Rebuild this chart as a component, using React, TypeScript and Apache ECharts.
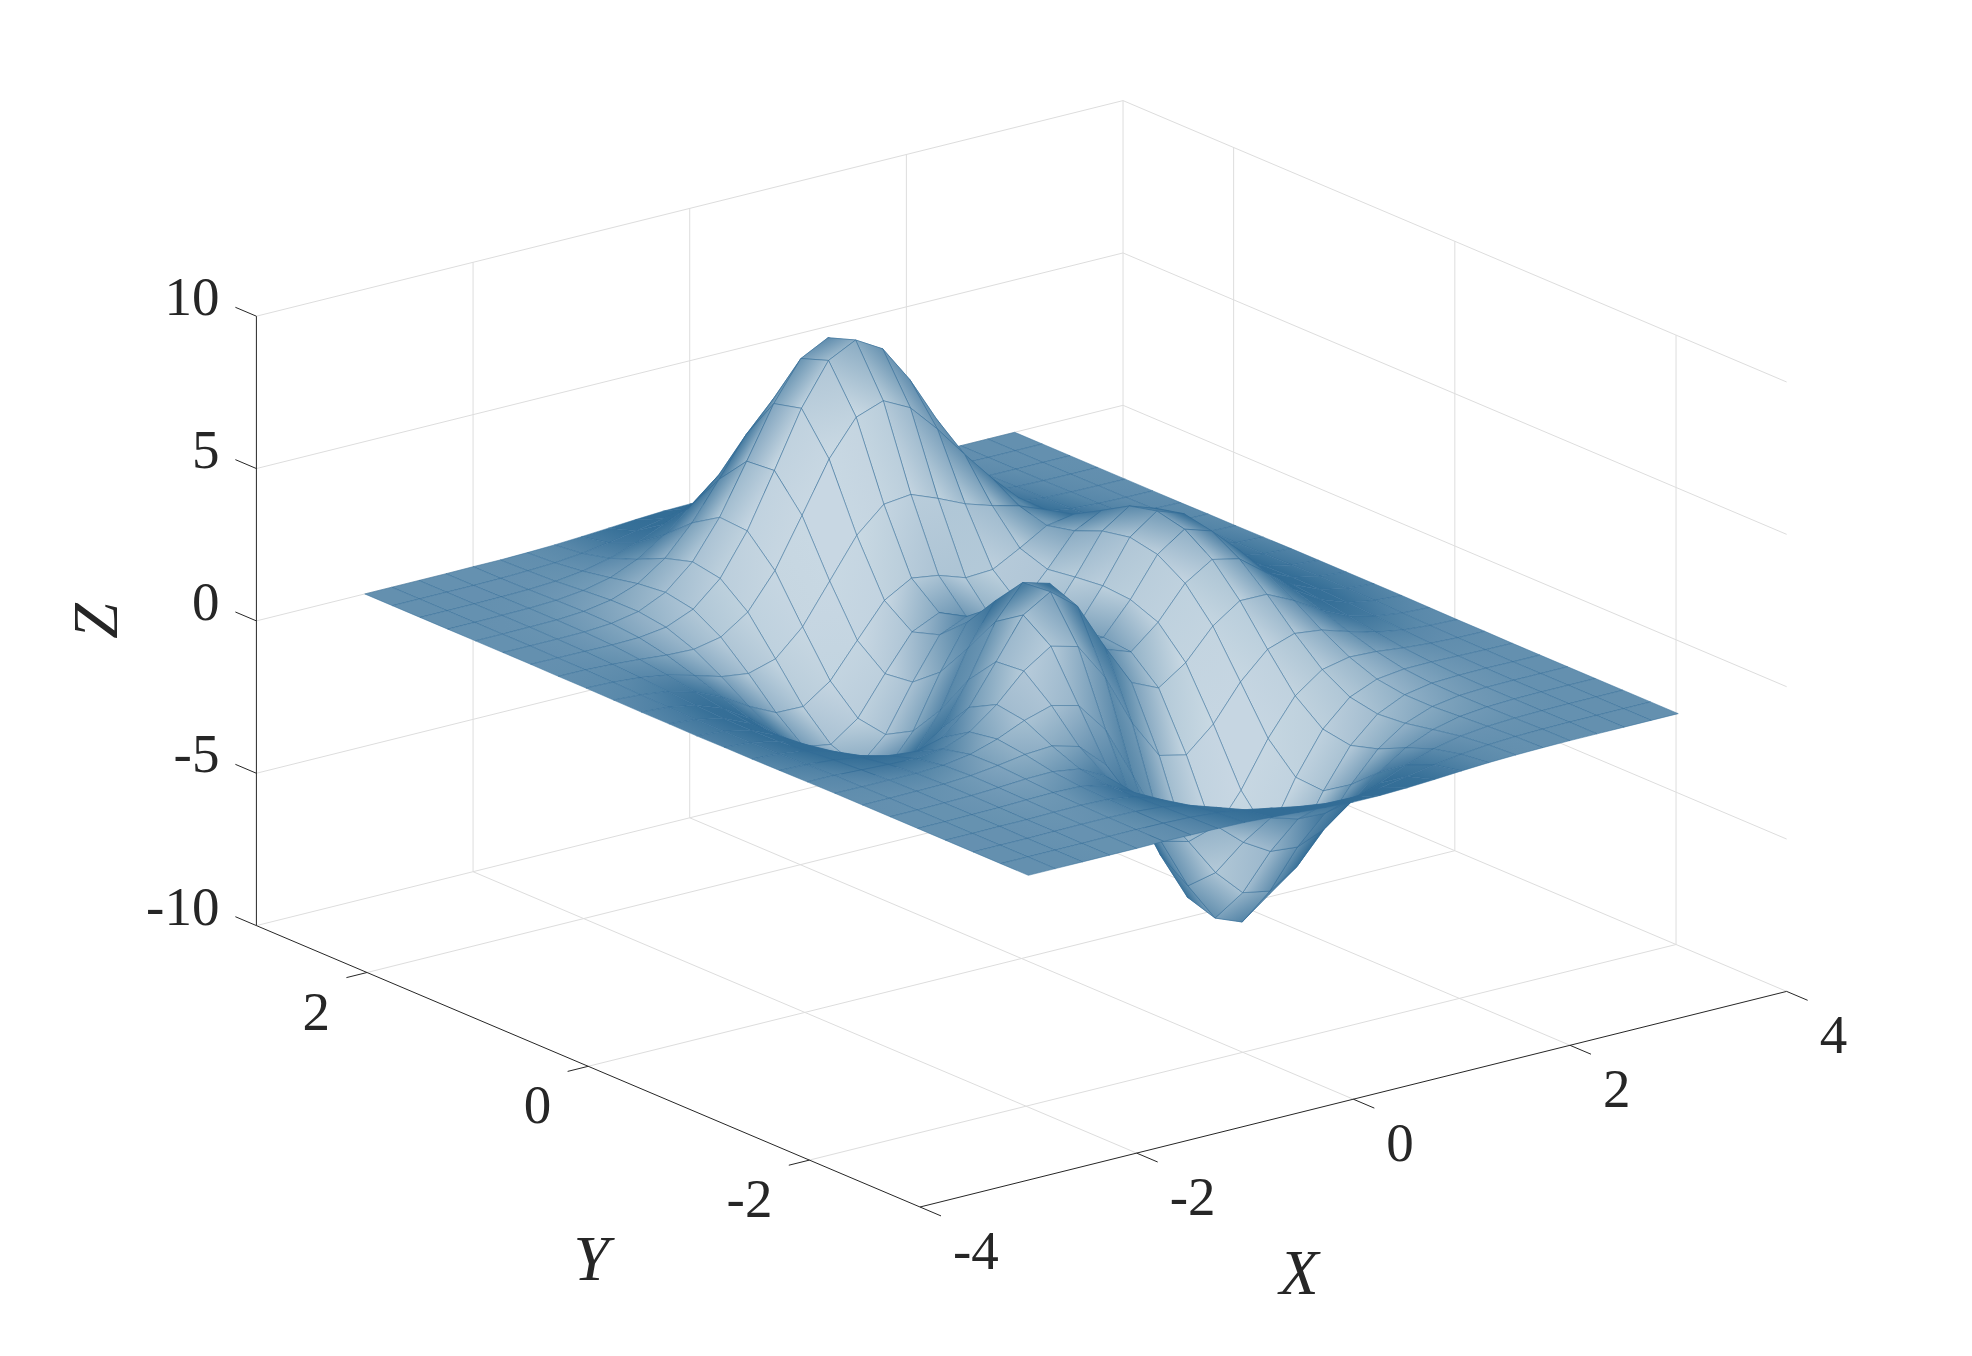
import React, { useEffect, useRef } from "react";
import * as echarts from "echarts";

const xValues = [-3,-2.75,-2.5,-2.25,-2,-1.75,-1.5,-1.25,-1,-0.75,-0.5,-0.25,0,0.25,0.5,0.75,1,1.25,1.5,1.75,2,2.25,2.5,2.75,3];
const yValues = [-3,-2.75,-2.5,-2.25,-2,-1.75,-1.5,-1.25,-1,-0.75,-0.5,-0.25,0,0.25,0.5,0.75,1,1.25,1.5,1.75,2,2.25,2.5,2.75,3];
// One row per x value, one column per y value.
const zByX = [
[0,0,0,0,0,0,0,0,-0.01,-0.02,-0.03,-0.03,-0.04,-0.03,-0.03,-0.02,-0.01,-0.01,0,0,0,0,0,0,0],
[0,0,0,0,0,0,0,-0.01,-0.02,-0.05,-0.08,-0.1,-0.11,-0.11,-0.09,-0.07,-0.04,-0.02,-0.01,0,0,0,0,0,0],
[0,0,0,0.01,0.01,0.01,0.01,-0.01,-0.06,-0.12,-0.2,-0.27,-0.3,-0.29,-0.25,-0.18,-0.11,-0.06,-0.02,0,0.01,0.01,0,0,0],
[0,0,0.01,0.01,0.02,0.03,0.02,-0.01,-0.1,-0.26,-0.44,-0.6,-0.69,-0.67,-0.57,-0.42,-0.25,-0.12,-0.03,0.01,0.02,0.02,0.01,0,0],
[0,0.01,0.02,0.03,0.05,0.07,0.08,0.03,-0.13,-0.42,-0.8,-1.14,-1.33,-1.32,-1.12,-0.81,-0.48,-0.2,-0.01,0.07,0.08,0.06,0.03,0.01,0.01],
[0.01,0.01,0.02,0.04,0.07,0.13,0.19,0.17,-0.04,-0.51,-1.16,-1.78,-2.14,-2.16,-1.85,-1.33,-0.74,-0.23,0.11,0.24,0.23,0.16,0.08,0.04,0.01],
[0,0,0,0.01,0.05,0.15,0.33,0.45,0.3,-0.28,-1.21,-2.16,-2.77,-2.87,-2.49,-1.76,-0.86,-0.05,0.48,0.65,0.55,0.36,0.19,0.08,0.03],
[-0.01,-0.03,-0.07,-0.12,-0.13,0.02,0.39,0.84,0.98,0.5,-0.59,-1.83,-2.71,-2.98,-2.64,-1.78,-0.6,0.55,1.27,1.43,1.16,0.74,0.39,0.17,0.06],
[-0.03,-0.1,-0.24,-0.44,-0.59,-0.46,0.15,1.11,1.86,1.78,0.8,-0.57,-1.65,-2.15,-2,-1.16,0.23,1.69,2.61,2.67,2.1,1.32,0.69,0.3,0.11],
[-0.08,-0.22,-0.53,-0.99,-1.45,-1.48,-0.68,0.89,2.45,3.09,2.49,1.23,0.06,-0.65,-0.76,-0.05,1.51,3.28,4.37,4.29,3.31,2.07,1.07,0.47,0.17],
[-0.14,-0.39,-0.91,-1.74,-2.64,-3.01,-2.18,-0.13,2.22,3.63,3.55,2.56,1.48,0.68,0.39,1.04,2.79,4.91,6.19,5.96,4.56,2.84,1.47,0.64,0.23],
[-0.2,-0.56,-1.31,-2.5,-3.88,-4.7,-4.07,-1.84,0.99,2.94,3.3,2.63,1.75,1.06,0.8,1.55,3.59,6.06,7.54,7.22,5.51,3.43,1.77,0.77,0.28],
[-0.25,-0.68,-1.57,-3.02,-4.76,-5.98,-5.68,-3.6,-0.73,1.4,2,1.58,0.98,0.52,0.46,1.42,3.69,6.38,7.99,7.68,5.86,3.65,1.88,0.82,0.3],
[-0.25,-0.7,-1.6,-3.1,-4.93,-6.33,-6.32,-4.6,-2.02,-0.01,0.7,0.53,0.19,-0.03,0.09,1.12,3.34,5.93,7.48,7.2,5.5,3.43,1.77,0.77,0.28],
[-0.22,-0.61,-1.41,-2.72,-4.35,-5.64,-5.76,-4.39,-2.22,-0.41,0.39,0.48,0.37,0.28,0.38,1.17,2.94,5.01,6.25,5.99,4.57,2.84,1.47,0.64,0.23],
[-0.17,-0.46,-1.06,-2.05,-3.27,-4.24,-4.31,-3.22,-1.43,0.2,1.14,1.5,1.57,1.47,1.34,1.65,2.66,3.96,4.72,4.45,3.37,2.09,1.08,0.47,0.17],
[-0.11,-0.3,-0.69,-1.32,-2.1,-2.69,-2.63,-1.74,-0.27,1.18,2.2,2.76,2.94,2.76,2.38,2.17,2.43,2.97,3.25,2.96,2.21,1.36,0.7,0.3,0.11],
[-0.06,-0.17,-0.38,-0.73,-1.15,-1.42,-1.27,-0.56,0.58,1.79,2.76,3.37,3.58,3.36,2.83,2.32,2.08,2.09,2.05,1.78,1.29,0.79,0.4,0.17,0.06],
[-0.03,-0.08,-0.18,-0.35,-0.53,-0.61,-0.44,0.08,0.88,1.78,2.56,3.09,3.27,3.06,2.56,1.99,1.58,1.35,1.18,0.96,0.68,0.41,0.2,0.09,0.03],
[-0.01,-0.03,-0.08,-0.14,-0.2,-0.2,-0.07,0.27,0.77,1.35,1.88,2.25,2.37,2.22,1.85,1.4,1.04,0.79,0.62,0.47,0.32,0.19,0.09,0.04,0.01],
[0,-0.01,-0.03,-0.05,-0.06,-0.04,0.04,0.23,0.5,0.82,1.12,1.34,1.41,1.32,1.09,0.82,0.58,0.41,0.29,0.21,0.13,0.08,0.04,0.02,0.01],
[0,0,-0.01,-0.01,-0.01,0,0.05,0.13,0.26,0.41,0.56,0.67,0.7,0.66,0.54,0.4,0.28,0.19,0.12,0.08,0.05,0.03,0.01,0.01,0],
[0,0,0,0,0,0.01,0.03,0.06,0.11,0.18,0.24,0.28,0.3,0.28,0.23,0.17,0.11,0.07,0.05,0.03,0.02,0.01,0,0,0],
[0,0,0,0,0,0,0.01,0.02,0.04,0.06,0.09,0.1,0.11,0.1,0.08,0.06,0.04,0.03,0.02,0.01,0.01,0,0,0,0],
[0,0,0,0,0,0,0,0.01,0.01,0.02,0.03,0.03,0.03,0.03,0.03,0.02,0.01,0.01,0,0,0,0,0,0,0],
];

const xTicks = [-4, -2, 0, 2, 4];
const yTicks = [-2, 0, 2];
const zTicks = [-10, -5, 0, 5, 10];

const FONT = '"Liberation Serif", serif';
const INK = "#262626";
const GRID = "#dddddd";
const MESH = [51, 109, 150];
const MESH_LINE = "rgba(51,109,150,0.55)";
const LINES_PER_CELL = 6;
const LINE_WIDTH = 1.1;

type P3 = [number, number, number];
const X0 = -4, X1 = 4, Y0 = -3, Y1 = 3, Z0 = -10, Z1 = 10;

// Orthographic view of the 3D box onto the hidden 2D value axes.
function project([x, y, z]: P3): [number, number] {
  return [
    920 + (x - X0) * 108.33 + (y - Y0) * -110.6,
    1207 + (x - X0) * -26.95 + (y - Y0) * -46.9 + (z - Z0) * -30.47,
  ];
}

type Seg = [P3, P3];
const gridSegs: Seg[] = [];
for (const z of zTicks) {
  gridSegs.push([[X0, Y1, z], [X1, Y1, z]]);
  gridSegs.push([[X1, Y1, z], [X1, Y0, z]]);
}
for (const x of xTicks) {
  if (x > X0 && x < X1) {
    gridSegs.push([[x, Y1, Z0], [x, Y1, Z1]]);
    gridSegs.push([[x, Y0, Z0], [x, Y1, Z0]]);
  }
}
for (const y of yTicks) {
  gridSegs.push([[X1, y, Z0], [X1, y, Z1]]);
  gridSegs.push([[X0, y, Z0], [X1, y, Z0]]);
}
gridSegs.push([[X1, Y1, Z0], [X1, Y1, Z1]]);

const axisSegs: Seg[] = [
  [[X0, Y1, Z0], [X0, Y1, Z1]],
  [[X0, Y1, Z0], [X0, Y0, Z0]],
  [[X0, Y0, Z0], [X1, Y0, Z0]],
];
const TICK = 0.19;
for (const z of zTicks) axisSegs.push([[X0, Y1, z], [X0, Y1 + TICK, z]]);
for (const x of xTicks) axisSegs.push([[x, Y0, Z0], [x, Y0 - TICK, Z0]]);
for (const y of yTicks) axisSegs.push([[X0, y, Z0], [X0 - TICK, y, Z0]]);

// Back to front, so that nearer cells hide what lies behind them.
const cells: [number, number][] = [];
for (let i = xValues.length - 2; i >= 0; i--) {
  for (let j = yValues.length - 2; j >= 0; j--) cells.push([i, j]);
}

function len(a: number[], b: number[]) {
  return Math.hypot(a[0] - b[0], a[1] - b[1]);
}

function vertex(i: number, j: number) {
  return project([xValues[i], yValues[j], zByX[i][j]]);
}

// How much of a cell the reference's finer mesh lines would cover.
function cellInk(i: number, j: number) {
  const p = [vertex(i, j), vertex(i + 1, j), vertex(i + 1, j + 1), vertex(i, j + 1)];
  const d1 = [p[2][0] - p[0][0], p[2][1] - p[0][1]];
  const d2 = [p[3][0] - p[1][0], p[3][1] - p[1][1]];
  const area = Math.max(Math.abs(d1[0] * d2[1] - d1[1] * d2[0]) / 2, 1);
  const half = (len(p[0], p[1]) + len(p[1], p[2]) + len(p[2], p[3]) + len(p[3], p[0])) / 2;
  return Math.min(1, (LINES_PER_CELL * LINE_WIDTH * half) / area);
}

function vertexInk(i: number, j: number) {
  let sum = 0, n = 0;
  for (const a of [i - 1, i]) {
    for (const b of [j - 1, j]) {
      if (a >= 0 && b >= 0 && a < xValues.length - 1 && b < yValues.length - 1) {
        sum += cellInk(a, b);
        n++;
      }
    }
  }
  return sum / n;
}

function tone(ink: number) {
  const k = Math.max(0, Math.min(1, ink));
  const c = MESH.map((m) => Math.round(255 + (m - 255) * k));
  return `rgb(${c[0]},${c[1]},${c[2]})`;
}

function segItem(segs: Seg[], stroke: string, lineWidth: number) {
  return (params: any, api: any) => {
    const [a, b] = segs[params.dataIndex];
    const p = api.coord(project(a));
    const q = api.coord(project(b));
    return {
      type: "line",
      shape: { x1: p[0], y1: p[1], x2: q[0], y2: q[1] },
      style: { stroke, lineWidth, fill: null },
    };
  };
}

function cellItem(params: any, api: any) {
  const [i, j] = cells[params.dataIndex];
  const ids: [number, number][] = [[i, j], [i + 1, j], [i + 1, j + 1], [i, j + 1]];
  const pts = ids.map(([a, b]) => api.coord(vertex(a, b)));
  const inks = ids.map(([a, b]) => vertexInk(a, b));
  const c = [0, 1].map((k) => (pts[0][k] + pts[1][k] + pts[2][k] + pts[3][k]) / 4);
  const mean = (inks[0] + inks[1] + inks[2] + inks[3]) / 4;
  const e = [0, 1].map((k) => (pts[1][k] + pts[2][k] - pts[0][k] - pts[3][k]) / 2);
  const f = [0, 1].map((k) => (pts[2][k] + pts[3][k] - pts[0][k] - pts[1][k]) / 2);
  const du = (inks[1] + inks[2] - inks[0] - inks[3]) / 2;
  const dv = (inks[2] + inks[3] - inks[0] - inks[1]) / 2;
  const det = e[0] * f[1] - e[1] * f[0];
  let paint: any = tone(mean);
  if (Math.abs(det) > 1) {
    const gx = (du * f[1] - dv * e[1]) / det;
    const gy = (e[0] * dv - f[0] * du) / det;
    const g2 = gx * gx + gy * gy;
    const spread = (Math.max(...inks) - Math.min(...inks)) / 2;
    if (g2 > 1e-9 && spread > 0.005) {
      const sx = (gx / g2) * spread;
      const sy = (gy / g2) * spread;
      paint = {
        type: "linear",
        global: true,
        x: c[0] - sx,
        y: c[1] - sy,
        x2: c[0] + sx,
        y2: c[1] + sy,
        colorStops: [
          { offset: 0, color: tone(mean - spread) },
          { offset: 1, color: tone(mean + spread) },
        ],
      };
    }
  }
  return {
    type: "polygon",
    shape: { points: pts },
    style: { fill: paint, stroke: MESH_LINE, lineWidth: 0.9, lineJoin: "round" },
  };
}

type Label = { text: string; at: P3; dx: number; dy: number; align: string };
const labels: Label[] = [
  ...zTicks.map((z) => ({ text: String(z), at: [X0, Y1, z] as P3, dx: -37, dy: -19.5, align: "right" })),
  ...xTicks.map((x) => ({ text: String(x), at: [x, Y0, Z0] as P3, dx: 33, dy: 43.5, align: "left" })),
  ...yTicks.map((y) => ({ text: String(y), at: [X0, y, Z0] as P3, dx: -37, dy: 38.5, align: "right" })),
];

const titles = [
  { text: "X", at: [-1, -3, -10] as P3, dx: 54, dy: 146, rotation: 0 },
  { text: "Y", at: [-4, 0, -10] as P3, dx: 3, dy: 192, rotation: 0 },
  { text: "Z", at: [-4, 3, 0] as P3, dx: -161, dy: 0, rotation: Math.PI / 2 },
];

function labelItem(params: any, api: any) {
  const l = labels[params.dataIndex];
  const p = api.coord(project(l.at));
  return {
    type: "text",
    x: p[0] + l.dx,
    y: p[1] + l.dy,
    style: {
      text: l.text,
      fontFamily: FONT,
      fontSize: 55,
      fill: INK,
      align: l.align,
      verticalAlign: "middle",
    },
  };
}

function titleItem(params: any, api: any) {
  const t = titles[params.dataIndex];
  const p = api.coord(project(t.at));
  return {
    type: "text",
    x: p[0] + t.dx,
    y: p[1] + t.dy,
    rotation: t.rotation,
    style: {
      text: t.text,
      fontFamily: FONT,
      fontStyle: "italic",
      fontSize: 64,
      fill: INK,
      align: "center",
      verticalAlign: "middle",
    },
  };
}

function custom(name: string, count: number, renderItem: any, z: number) {
  return {
    type: "custom",
    name,
    coordinateSystem: "cartesian2d",
    renderItem,
    data: Array.from({ length: count }, (_, k) => [k, k]),
    clip: false,
    silent: true,
    z,
    progressive: 0,
    animation: false,
  };
}

export default function App() {
  const ref = useRef<HTMLDivElement>(null);
  useEffect(() => {
    const chart = echarts.init(ref.current!, undefined, { renderer: "svg" });
    chart.setOption({
      animation: false,
      backgroundColor: "#ffffff",
      tooltip: { show: false },
      grid: { left: 0, right: 0, top: 0, bottom: 0 },
      xAxis: { type: "value", min: 0, max: 1972, show: false },
      yAxis: { type: "value", min: 0, max: 1356, inverse: true, show: false },
      series: [
        custom("grid", gridSegs.length, segItem(gridSegs, GRID, 1), 1),
        custom("axes", axisSegs.length, segItem(axisSegs, INK, 1), 2),
        custom("surface", cells.length, cellItem, 3),
        custom("ticks", labels.length, labelItem, 4),
        custom("titles", titles.length, titleItem, 4),
      ],
    });
    return () => chart.dispose();
  }, []);
  return <div ref={ref} style={{ position: "absolute", left: 0, top: 0, width: 1972, height: 1356 }} />;
}
